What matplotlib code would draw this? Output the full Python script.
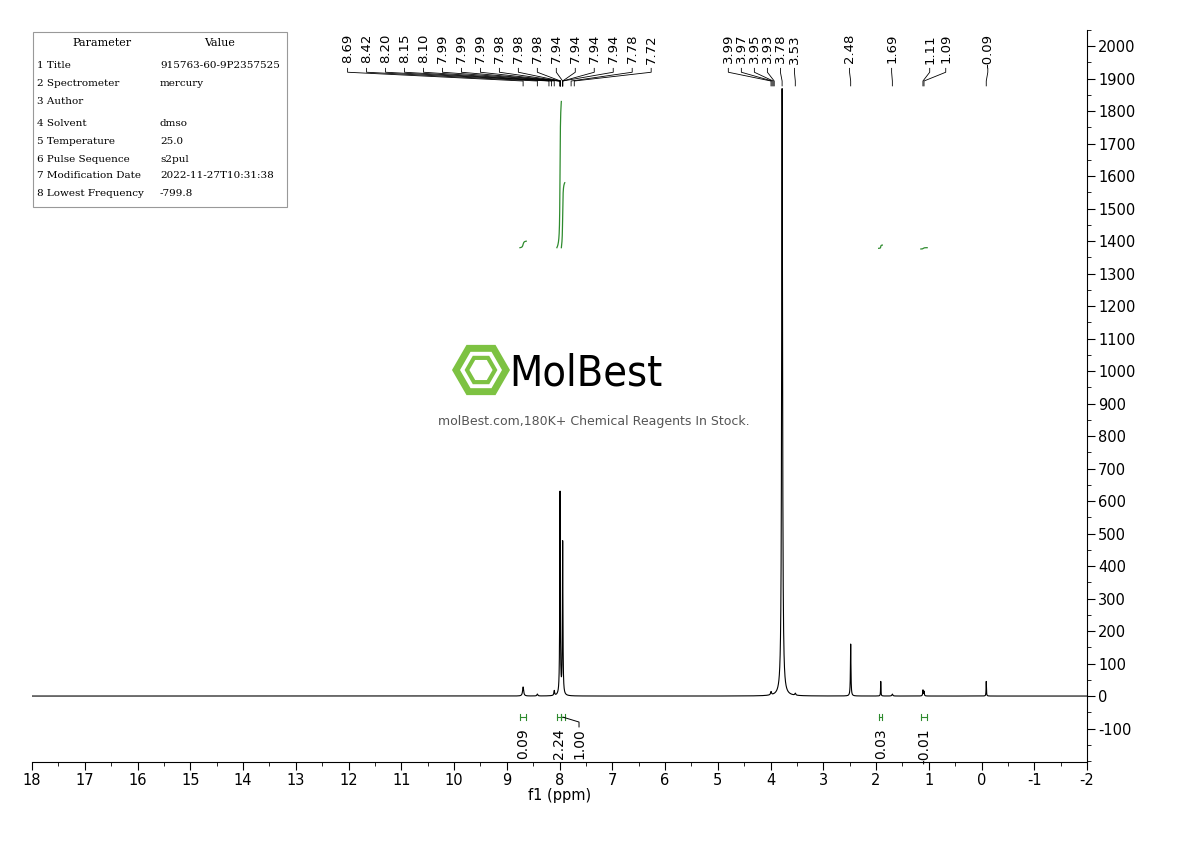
import numpy as np
import matplotlib
matplotlib.use("Agg")
import matplotlib.pyplot as plt
from matplotlib.patches import RegularPolygon
from matplotlib.ticker import MultipleLocator

# ---- data ----
peak_ppm = [8.69, 8.42, 8.10, 7.99, 7.94, 3.99, 3.78, 3.53, 2.48, 1.91, 1.69, 1.11, 1.09, -0.09]
peak_height = [28, 6, 15, 625, 470, 10, 1870, 6, 160, 45, 6, 18, 14, 45]
peak_width = [0.012, 0.01, 0.008, 0.006, 0.006, 0.01, 0.010, 0.01, 0.006, 0.004, 0.01, 0.006, 0.006, 0.004]

top_labels_left = ["8.69","8.42","8.20","8.15","8.10","7.99","7.99","7.99","7.98","7.98","7.98","7.94","7.94","7.94","7.94","7.78","7.72"]
top_labels_right = ["3.99","3.97","3.95","3.93","3.78","3.53","2.48","1.69","1.11","1.09","-0.09"]

integ_regions = [(8.75, 8.63), (8.05, 7.965), (7.965, 7.90), (1.95, 1.88), (1.15, 1.03)]
integ_values = ["0.09", "2.24", "1.00", "0.03", "-0.01"]
integ_curve_base = [1380, 1380, 1380, 1378, 1376]
integ_curve_rise = [20, 450, 200, 10, 4]
integ_label_ppm = [8.69, 8.01, 7.63, 1.91, 1.09]

params = [("1 Title", "915763-60-9P2357525"), ("2 Spectrometer", "mercury"), ("3 Author", ""),
          ("4 Solvent", "dmso"), ("5 Temperature", "25.0"), ("6 Pulse Sequence", "s2pul"),
          ("7 Modification Date", "2022-11-27T10:31:38"), ("8 Lowest Frequency", "-799.8")]

# ---- figure ----
fig = plt.figure(figsize=(11.9, 8.41), dpi=100)
ax = fig.add_axes([32/1190, 1-762/841, (1087-32)/1190, (762-30)/841])
x = np.linspace(18, -2, 40000)

def lor(x, c, h, w):
    return h * w**2 / ((x - c)**2 + w**2)

y = np.zeros_like(x)
for c, h, w in zip(peak_ppm, peak_height, peak_width):
    y += lor(x, c, h, w)
ax.plot(x, y, color="black", lw=0.8)

for (a, b), base, rise, val, lp in zip(integ_regions, integ_curve_base, integ_curve_rise, integ_values, integ_label_ppm):
    m = (x <= a) & (x >= b)
    cs = np.cumsum(y[m])
    cs = (cs - cs[0]) / max(cs[-1] - cs[0], 1e-9)
    ax.plot(x[m], base + rise * cs, color="#2e8b2e", lw=0.9)
    ax.plot([a, b], [-65, -65], color="#2e8b2e", lw=0.8)
    ax.plot([a, a], [-55, -75], color="#2e8b2e", lw=0.8)
    ax.plot([b, b], [-55, -75], color="#2e8b2e", lw=0.8)
    mid = (a + b) / 2
    if abs(lp - mid) > 0.1:
        ax.plot([mid, lp, lp], [-65, -80, -95], color="black", lw=0.7)
    ax.text(lp, -98, val, rotation=90, ha="center", va="top", fontsize=10)

def px2ppm(p):
    return 18 - (p - 32) / 52.65

def label_group(labels, px_positions, targets):
    for lab, p, t in zip(labels, px_positions, targets):
        lx = px2ppm(p)
        ax.text(lx, 2038, lab, rotation=90, ha="center", va="top", fontsize=9.5)
        ax.plot([lx, lx, t, t], [1932, 1920, 1893, 1878], color="black", lw=0.6)

left_px = np.linspace(347, 650, len(top_labels_left))
label_group(top_labels_left, left_px, [float(s) for s in top_labels_left])
right_px = [727, 740, 753, 766, 779, 793, 848, 890, 928, 944, 986]
label_group(top_labels_right, right_px, [float(s) for s in top_labels_right])

ax.set_xlim(18, -2)
ax.set_ylim(-203, 2050)
ax.set_xticks(range(18, -3, -1))
ax.set_xticklabels([str(v) for v in range(18, -3, -1)], fontsize=10.5)
ax.xaxis.set_minor_locator(MultipleLocator(0.5))
ax.yaxis.tick_right()
ax.set_yticks(range(-100, 2001, 100))
ax.set_yticklabels([str(v) for v in range(-100, 2001, 100)], fontsize=10.5)
ax.yaxis.set_minor_locator(MultipleLocator(50))
ax.tick_params(axis="both", which="major", direction="out", length=6, pad=2)
ax.tick_params(axis="both", which="minor", direction="out", length=3)
for s in ["top", "left"]:
    ax.spines[s].set_visible(False)
ax.set_xlabel("f1 (ppm)", fontsize=10.5, labelpad=0)

fig.patches.append(plt.Rectangle((33/1190, 1-207/841), 254/1190, 175/841, transform=fig.transFigure,
                                 fill=False, ec="#999999", lw=0.8))
fig.text(102/1190, 1-43/841, "Parameter", ha="center", va="center", fontsize=8, family="DejaVu Serif")
fig.text(220/1190, 1-43/841, "Value", ha="center", va="center", fontsize=8, family="DejaVu Serif")
rows_y = [65, 83, 101, 123, 141, 159, 176, 194]
for (k, v), ry in zip(params, rows_y):
    fig.text(37/1190, 1-ry/841, k, ha="left", va="center", fontsize=7.5, family="DejaVu Serif")
    fig.text(160/1190, 1-ry/841, v, ha="left", va="center", fontsize=7.5, family="DejaVu Serif")

fig.patches.append(RegularPolygon((481, 841-370), 6, radius=25, orientation=np.pi/6, transform=None,
                                  fill=False, ec="#7dc242", lw=5))
fig.patches.append(RegularPolygon((481, 841-370), 6, radius=14, orientation=np.pi/6, transform=None,
                                  fill=False, ec="#7dc242", lw=3))
fig.text(586/1190, 1-373/841, "MolBest", ha="center", va="center", fontsize=31,
         family="DejaVu Sans", fontstretch="condensed", color="black")
fig.text(594/1190, 1-421/841, "molBest.com,180K+ Chemical Reagents In Stock.", ha="center", va="center",
         fontsize=9, color="#555555")

fig.savefig("out.png", dpi=100)
